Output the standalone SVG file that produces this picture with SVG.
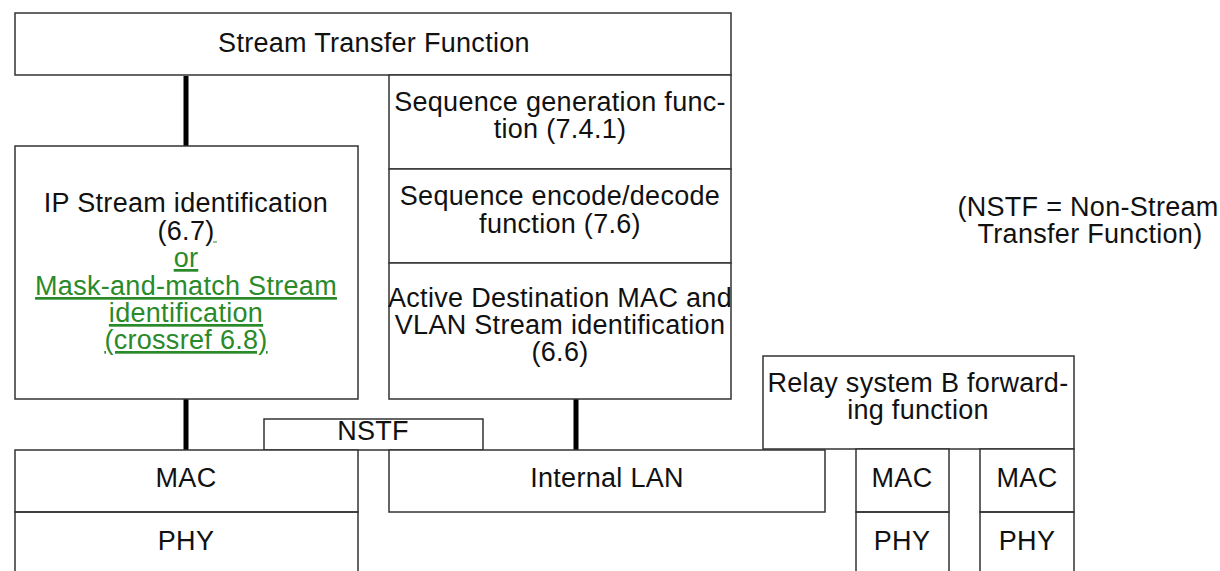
<svg xmlns="http://www.w3.org/2000/svg" width="1220" height="571" viewBox="0 0 1220 571">
<style>
.b{fill:#fff;stroke:#333;stroke-width:1.5}
.ln{fill:none;stroke:#333;stroke-width:1.5}
.t{font-family:"Liberation Sans",Arial,sans-serif;font-size:27px;letter-spacing:0.3px;fill:#111;text-anchor:middle}
.g{fill:#2a8a2a;text-decoration:underline}
.k{stroke:#000;stroke-width:5}
</style>
<rect width="1220" height="571" fill="#fff"/>
<g id="connectors">
<line class="k" x1="186" y1="76" x2="186" y2="146"/>
<line class="k" x1="186" y1="399" x2="186" y2="450"/>
<line class="k" x1="576" y1="399" x2="576" y2="450"/>
</g>
<g id="stf"><rect class="b" x="15" y="13" width="716" height="62"/><text class="t" x="374" y="52">Stream Transfer Function</text></g>
<g id="seqgen"><rect class="b" x="389" y="75" width="342" height="94"/><text class="t" x="560" y="111">Sequence generation func-</text><text class="t" x="560" y="138">tion (7.4.1)</text></g>
<g id="seqenc"><rect class="b" x="389" y="169" width="342" height="94"/><text class="t" x="560" y="205">Sequence encode/decode</text><text class="t" x="560" y="233">function (7.6)</text></g>
<g id="activedest"><rect class="b" x="389" y="263" width="342" height="136"/><text class="t" x="560" y="307">Active Destination MAC and</text><text class="t" x="560" y="334">VLAN Stream identification</text><text class="t" x="560" y="361">(6.6)</text></g>
<g id="ipstream"><rect class="b" x="15" y="146" width="343" height="253"/>
<text class="t" x="186" y="212">IP Stream identification</text>
<text class="t" x="186" y="240">(6.7)</text>
<line x1="213" y1="242" x2="217" y2="242" stroke="#2a8a2a" stroke-width="1"/>
<text class="t g" x="186" y="267">or</text>
<text class="t g" x="186" y="295">Mask-and-match Stream</text>
<text class="t g" x="186" y="322">identification</text>
<text class="t g" x="186" y="349">(crossref 6.8)</text>
</g>
<g id="nstf"><rect class="b" x="264" y="419" width="219" height="31"/><text class="t" x="373" y="440">NSTF</text></g>
<g id="mac-left"><rect class="b" x="15" y="450" width="343" height="62"/><text class="t" x="186" y="487">MAC</text></g>
<g id="phy-left"><path class="ln" d="M15,571 V512 H358 V571"/><text class="t" x="186" y="550">PHY</text></g>
<g id="internal-lan"><rect class="b" x="389" y="450" width="436" height="62"/><text class="t" x="607" y="487">Internal LAN</text></g>
<g id="relay"><rect class="b" x="763" y="356" width="311" height="93"/><text class="t" x="918" y="392">Relay system B forward-</text><text class="t" x="918" y="419">ing function</text></g>
<g id="mac-r1"><rect class="b" x="856" y="449" width="93" height="63"/><text class="t" x="902" y="487">MAC</text></g>
<g id="phy-r1"><path class="ln" d="M856,571 V512 H949 V571"/><text class="t" x="902" y="550">PHY</text></g>
<g id="mac-r2"><rect class="b" x="980" y="449" width="94" height="63"/><text class="t" x="1027" y="487">MAC</text></g>
<g id="phy-r2"><path class="ln" d="M980,571 V512 H1074 V571"/><text class="t" x="1027" y="550">PHY</text></g>
<g id="note"><text class="t" x="1088" y="216">(NSTF = Non-Stream</text><text class="t" x="1090" y="243">Transfer Function)</text></g>
</svg>
